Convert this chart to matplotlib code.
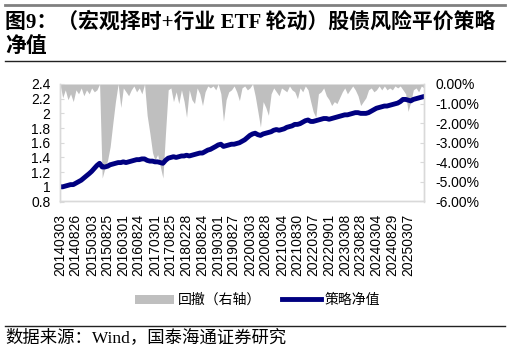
import numpy as np
import pandas as pd
import matplotlib
matplotlib.use("Agg")
import matplotlib.pyplot as plt
from matplotlib.lines import Line2D
from matplotlib.patches import Patch

start_month = "2014-03-01"

nav = [
    1.00, 1.00, 1.01, 1.02, 1.03, 1.03, 1.05, 1.07, 1.09, 1.12,          # 2014 Mar-Dec
    1.15, 1.18, 1.21, 1.25, 1.29, 1.32, 1.27, 1.27, 1.28, 1.30, 1.31, 1.32,  # 2015
    1.33, 1.33, 1.34, 1.33, 1.34, 1.35, 1.36, 1.37, 1.37, 1.38, 1.38, 1.36,  # 2016
    1.35, 1.35, 1.34, 1.34, 1.33, 1.32, 1.36, 1.39, 1.40, 1.41, 1.40, 1.41,  # 2017
    1.42, 1.42, 1.43, 1.42, 1.43, 1.44, 1.45, 1.46, 1.46, 1.48, 1.50, 1.51,  # 2018
    1.53, 1.55, 1.57, 1.58, 1.55, 1.56, 1.57, 1.58, 1.58, 1.59, 1.60, 1.62,  # 2019
    1.64, 1.67, 1.70, 1.72, 1.73, 1.71, 1.70, 1.72, 1.73, 1.74, 1.75, 1.77,  # 2020
    1.78, 1.77, 1.78, 1.79, 1.81, 1.82, 1.83, 1.85, 1.85, 1.86, 1.88, 1.90,  # 2021
    1.91, 1.89, 1.89, 1.90, 1.91, 1.92, 1.93, 1.93, 1.92, 1.93, 1.94, 1.95,  # 2022
    1.96, 1.97, 1.98, 1.98, 1.99, 2.00, 2.01, 2.01, 2.00, 2.00, 2.00, 2.01,  # 2023
    2.03, 2.05, 2.07, 2.08, 2.09, 2.10, 2.10, 2.11, 2.12, 2.13, 2.14, 2.16,  # 2024
    2.19, 2.19, 2.18, 2.17, 2.19, 2.20, 2.21, 2.22, 2.23,                    # 2025 Jan-Sep
]

drawdown = [
    0.0, -0.7, -0.3, -0.8, -0.5, -0.9, -0.3, -0.5, -0.2, -0.6,
    -0.3, -0.5, -0.2, -0.4, -0.3, 0.0, -4.8, -4.3, -3.9, -3.2, -2.0, -0.9,
    0.0, -1.2, -0.2, -0.4, -0.6, -0.3, -0.1, -0.4, -0.2, -0.5, 0.0, -1.6,
    -2.5, -3.5, -3.9, -3.6, -4.2, -4.8, -2.5, -0.3, -0.2, -0.9, -0.4, -1.0,
    -0.3, -0.9, -1.7, -0.3, -0.8, -1.0, -0.2, -0.5, -1.1, -0.4, -0.1, -0.2,
    -0.1, -0.3, 0.0, -0.5, -1.9, -0.8, -0.4, -0.3, -0.1, -0.4, -0.85, -0.2,
    -0.1, -0.3, -0.2, 0.0, -0.6, -1.4, -2.2, -0.9, -1.2, -1.6, -0.5, -0.2,
    -0.4, -0.6, -0.2, -0.3, -0.4, -0.1, -0.3, -0.4, -0.75, -0.2, -0.4, -0.1,
    -0.3, -0.9, -1.4, -1.7, -0.5, -0.4, -0.2, -0.6, -0.8, -1.1, -0.9, -1.0,
    -0.7, -0.4, -0.2, -0.5, -0.3, -0.1, -0.3, -0.6, -1.1, -0.9, -0.7, -0.3,
    -0.2, -0.4, -0.3, -0.1, -0.3, -0.1, -0.3, -0.2, -0.3, -0.1, -0.2, -0.1,
    -0.3, -0.5, -1.4, -0.9, -0.3, -0.2, -0.4, -0.1, -0.2,
]

tick_labels = [
    "20140303", "20140826", "20150303", "20150825", "20160301", "20160824",
    "20170301", "20170825", "20180228", "20180824", "20190301", "20190827",
    "20200303", "20200828", "20210304", "20210830", "20220307", "20220901",
    "20230308", "20230828", "20240304", "20240829", "20250307",
]

left_ticks = [0.8, 1.0, 1.2, 1.4, 1.6, 1.8, 2.0, 2.2, 2.4]
right_ticks = [0, -1, -2, -3, -4, -5, -6]

dates = pd.date_range(start_month, periods=len(nav), freq="MS")

navy = "#000080"
grey_fill = "#bfbfbf"
axis_grey = "#d9d9d9"
cjk_serif = ["Liberation Serif", "Noto Sans CJK SC"]
num_font = "Liberation Sans"

fig = plt.figure(figsize=(5.10, 3.52), dpi=100)

# header / footer rules
fig.add_artist(Line2D([0.01, 0.99], [1 - 5 / 352, 1 - 5 / 352], color="#808080", lw=2))
fig.add_artist(Line2D([0.01, 0.99], [1 - 61 / 352, 1 - 61 / 352], color="#222222", lw=1))
fig.add_artist(Line2D([0.01, 0.99], [1 - 326 / 352, 1 - 326 / 352], color="#222222", lw=1))

fig.text(0.01, 1 - 22 / 352, "图9：（宏观择时+行业 ETF 轮动）股债风险平价策略",
         fontsize=15, fontweight="bold", family=cjk_serif, va="center", ha="left")
fig.text(0.01, 1 - 47 / 352, "净值",
         fontsize=15, fontweight="bold", family=cjk_serif, va="center", ha="left")
fig.text(0.01, 1 - 338 / 352, "数据来源：Wind，国泰海通证券研究",
         fontsize=12.5, family=cjk_serif, va="center", ha="left")

ax = fig.add_axes([60 / 510, 1 - 201.5 / 352, 364 / 510, 117.5 / 352])
ax2 = ax.twinx()

ax2.fill_between(dates, drawdown, 0, color=grey_fill, lw=0)
ax2.set_ylim(-6, 0)
ax2.set_yticks(right_ticks)
ax2.set_yticklabels([f"{v:.2f}%" for v in right_ticks], fontsize=10, family=num_font)

ax.plot(dates, nav, color=navy, lw=3.5, solid_capstyle="round")
ax.set_ylim(0.8, 2.4)
ax.set_yticks(left_ticks)
ax.set_yticklabels([f"{v:g}" for v in left_ticks], fontsize=10, family=num_font)

ax.set_zorder(ax2.get_zorder() + 1)
ax.patch.set_visible(False)

ax.set_xlim(dates[0], dates[-1])
ax.set_xticks(pd.to_datetime(tick_labels, format="%Y%m%d"))
ax.set_xticklabels(tick_labels, rotation=90, fontsize=10, family=num_font)
ax.tick_params(axis="x", length=0, pad=9)
ax.tick_params(axis="y", direction="in", length=3, color=axis_grey, pad=7)
ax2.tick_params(axis="y", direction="in", length=3, color=axis_grey, pad=8)

for a in (ax, ax2):
    a.spines["top"].set_visible(False)
    for s in ("left", "right", "bottom"):
        a.spines[s].set_color(axis_grey)
        a.spines[s].set_linewidth(1)

handles = [Patch(facecolor=grey_fill, edgecolor="none"),
           Line2D([0], [0], color=navy, lw=3.5)]
fig.legend(handles, ["回撤（右轴）", "策略净值"], loc="center",
           bbox_to_anchor=(0.505, 1 - 300 / 352), ncol=2, frameon=False,
           prop={"family": "Noto Sans CJK SC", "size": 10},
           handlelength=2.8, handleheight=0.6, columnspacing=1.5, handletextpad=0.3)

fig.savefig("out.png", dpi=100)
